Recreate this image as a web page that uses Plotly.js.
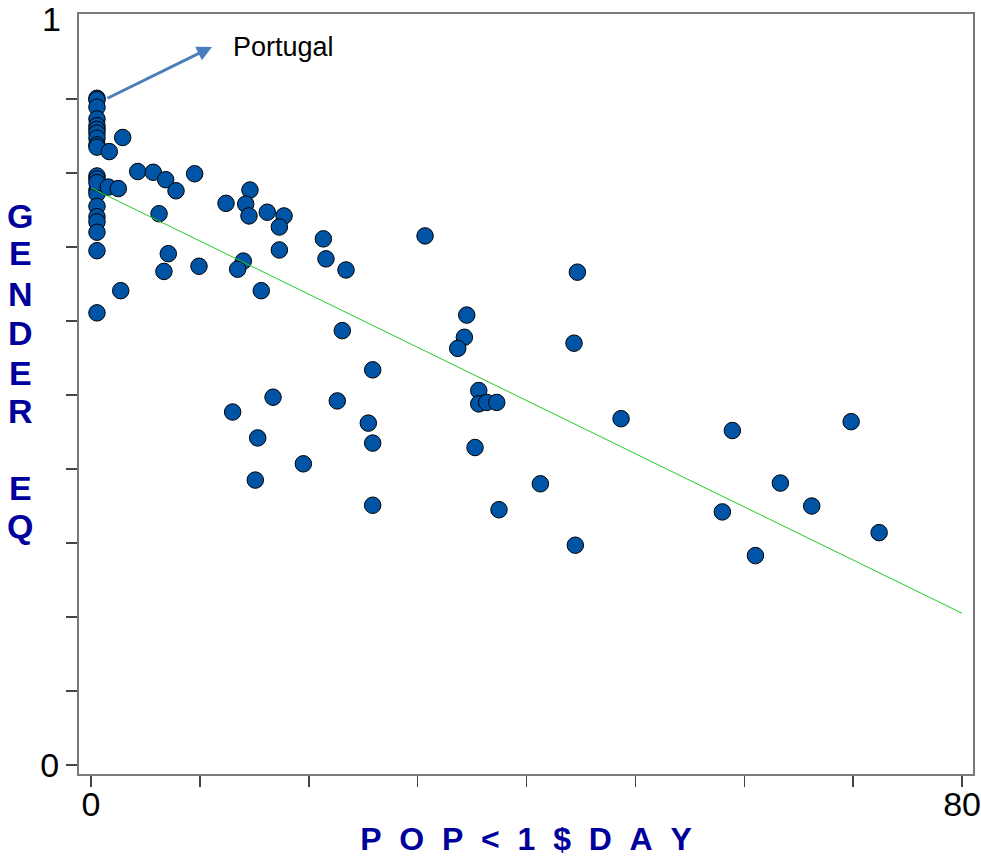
<!DOCTYPE html>
<html>
<head>
<meta charset="utf-8">
<script src="https://cdn.plot.ly/plotly-3.0.1.min.js"></script>
<style>html,body{margin:0;padding:0;background:#fff;}#chart{width:981px;height:859px;}</style>
</head>
<body>
<div id="chart"></div>
<script>
// Scatter data: POP < 1$ DAY (x) vs GENDER EQ (y)
const popX = [
  0.55,0.55,0.55,0.55,0.55,0.55,0.55,0.55,0.55,0.55,
  0.55,0.55,0.55,0.55,0.55,0.55,0.55,0.55,0.55,0.55,0.55,
  1.68,2.91,4.29,5.72,6.86,7.81,9.52,1.59,2.51,6.25,
  12.40,14.60,14.21,14.51,16.19,17.73,17.30,21.34,17.30,7.10,
  6.70,9.92,13.99,13.47,15.64,2.73,21.58,23.42,30.68,44.67,
  34.51,23.08,34.29,33.68,44.36,25.87,35.61,35.61,36.34,37.26,
  22.62,25.47,25.87,35.27,48.68,19.50,41.27,25.87,37.47,44.48,
  13.01,16.72,15.31,15.09,58.90,69.81,63.31,66.19,57.98,72.38,61.02
];
const genderY = [
  0.901,0.899,0.889,0.873,0.864,0.859,0.854,0.847,0.838,0.835,
  0.796,0.792,0.777,0.772,0.755,0.741,0.734,0.720,0.695,0.611,0.787,
  0.829,0.848,0.802,0.801,0.791,0.776,0.799,0.781,0.779,0.745,
  0.759,0.777,0.758,0.742,0.747,0.742,0.727,0.711,0.696,0.691,
  0.667,0.674,0.681,0.670,0.641,0.641,0.684,0.669,0.715,0.666,
  0.608,0.587,0.578,0.563,0.570,0.534,0.506,0.488,0.490,0.490,
  0.492,0.462,0.435,0.429,0.468,0.407,0.380,0.351,0.345,0.297,
  0.477,0.497,0.442,0.385,0.452,0.464,0.381,0.350,0.342,0.314,0.283
];
// Fitted trend line end points
const trendX = [0, 80];
const trendY = [0.780, 0.205];
// Tick labels
const xTickVals = [0,10,20,30,40,50,60,70,80];
const xTickText = ['0','','','','','','','','80'];
const yTickVals = [0,0.1,0.2,0.3,0.4,0.5,0.6,0.7,0.8,0.9];
const yTickText = ['0','','','','','','','','',''];
const yTitleLetters = ['G','E','N','D','E','R','E','Q'];
const yTitlePix = [218,255,296,335,375,413,490,528];

const titleColor = '#00009C';
const FONT = '"Liberation Sans", Arial, sans-serif';

const traces = [
  {
    type: 'scatter', mode: 'markers', x: popX, y: genderY,
    marker: {size: 16.5, color: '#0054A6', line: {color: '#000000', width: 1}},
    hoverinfo: 'skip'
  },
  {
    type: 'scatter', mode: 'lines', x: trendX, y: trendY,
    line: {color: '#22CC22', width: 1}, hoverinfo: 'skip'
  }
];

const annotations = [
  {xref:'paper', yref:'y', x:-0.018, y:1, yshift:6, text:'1', showarrow:false,
   xanchor:'right', yanchor:'middle', font:{family:FONT, size:34, color:'#000'}},
  {xref:'paper', yref:'paper', x:(212-79)/894, y:(774-47)/760, text:'',
   showarrow:true, arrowhead:2, arrowsize:1, arrowwidth:3, arrowcolor:'#4A7EBB',
   ax:-106, ay:52},
  {xref:'paper', yref:'paper', x:(231-79)/894, y:(774-47)/760, text:'Portugal',
   showarrow:false, xanchor:'left', yanchor:'middle',
   font:{family:FONT, size:27, color:'#000'}}
];
yTitleLetters.forEach((L, i) => {
  annotations.push({
    xref:'paper', yref:'paper', x:(20-79)/894, y:(774-yTitlePix[i]+2)/760,
    text:'<b>'+L+'</b>', showarrow:false, xanchor:'center', yanchor:'middle',
    font:{family:FONT, size:34, color:titleColor}
  });
});

const layout = {
  width: 981, height: 859,
  margin: {l:79, r:8, t:14, b:85},
  paper_bgcolor:'#fff', plot_bgcolor:'#fff',
  showlegend:false, hovermode:false,
  font:{family:FONT, color:'#000'},
  xaxis: {
    range:[-1.1, 81.0], showgrid:false, zeroline:false,
    showline:true, mirror:true, linecolor:'#7a7a7a', linewidth:2,
    ticks:'outside', ticklen:11, tickwidth:1.5, tickcolor:'#444',
    tickmode:'array', tickvals:xTickVals, ticktext:xTickText,
    ticklabeloverflow:'allow', ticklabelstandoff:-12,
    tickfont:{family:FONT, size:34, color:'#000'},
    title:{text:'<b>P\u00A0\u00A0O\u00A0\u00A0P\u00A0\u00A0<\u00A0\u00A01\u00A0\u00A0$\u00A0\u00A0D\u00A0\u00A0A\u00A0\u00A0Y</b>',
      font:{family:FONT, size:32, color:titleColor}, standoff:6}
  },
  yaxis: {
    range:[-0.0122, 1.0149], showgrid:false, zeroline:false,
    showline:true, mirror:true, linecolor:'#7a7a7a', linewidth:2,
    ticks:'outside', ticklen:11, tickwidth:1.5, tickcolor:'#444',
    tickmode:'array', tickvals:yTickVals, ticktext:yTickText,
    ticklabeloverflow:'allow',
    tickfont:{family:FONT, size:34, color:'#000'}
  },
  annotations: annotations
};

Plotly.newPlot('chart', traces, layout, {displayModeBar:false, staticPlot:true});
</script>
</body>
</html>
